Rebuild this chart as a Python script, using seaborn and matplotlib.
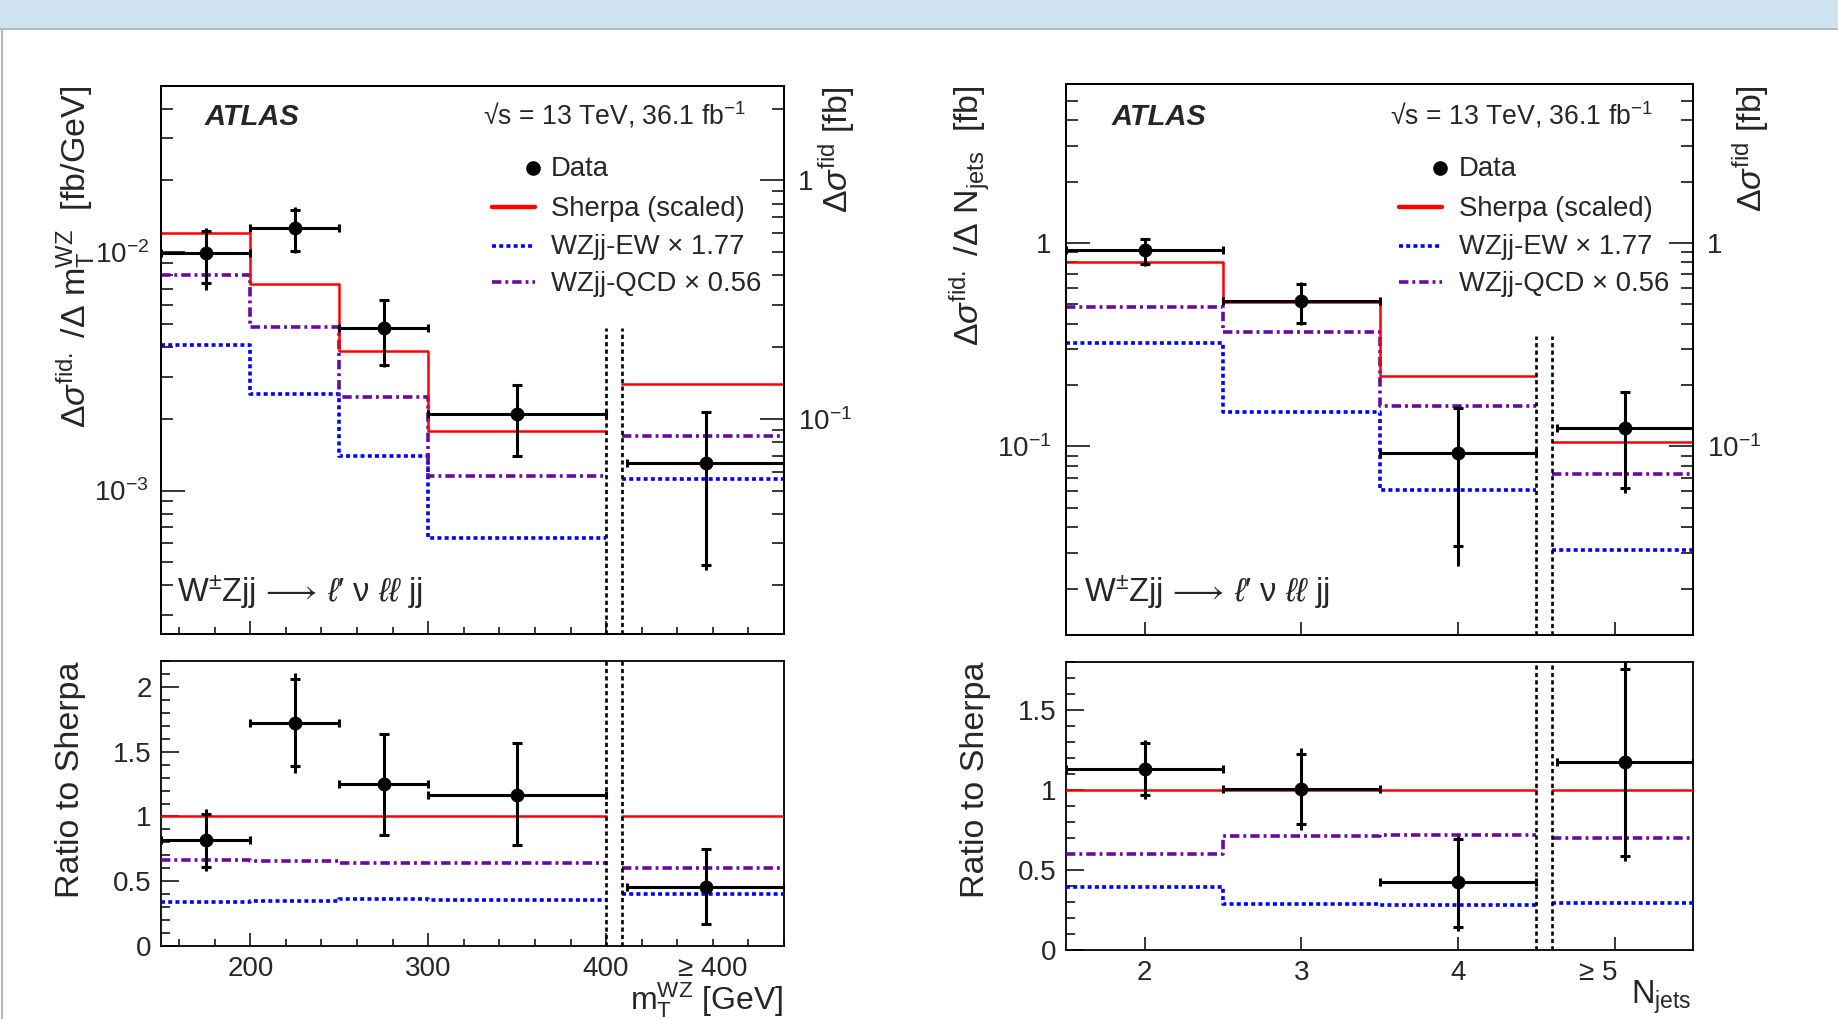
import numpy as np
import pandas as pd
import matplotlib
matplotlib.use("Agg")
import matplotlib.pyplot as plt
import seaborn as sns
from matplotlib.ticker import FixedLocator, MultipleLocator, NullFormatter, FuncFormatter, LogLocator, NullLocator
from matplotlib.lines import Line2D
from matplotlib.patches import Rectangle

# ---------------- data : m_T^WZ ----------------
mt_edges = [150, 200, 250, 300, 400]
mt_centers = [175, 225, 275, 350]
mt_halfw = [25, 25, 25, 50]
mt_ovf_edges = [409, 500]
mt_ovf_center = 456
mt_ovf_xerr = [44, 44]
mt_sherpa = [0.01205, 0.00738, 0.00385, 0.00178]
mt_sherpa_ovf = 0.00281
mt_ew = [0.00409, 0.00255, 0.00140, 0.000635]
mt_ew_ovf = 0.00112
mt_qcd = [0.00800, 0.00485, 0.00247, 0.00115]
mt_qcd_ovf = 0.00169
mt_data = [0.0099, 0.01262, 0.00482, 0.00210, 0.001306]
mt_tot_hi = [0.01266, 0.01542, 0.00635, 0.00280, 0.00214]
mt_tot_lo = [0.00695, 0.00988, 0.00331, 0.00138, 0.000464]
mt_stat_hi = [0.01226, 0.01509, 0.00630, 0.00277, 0.00213]
mt_stat_lo = [0.00746, 0.01012, 0.00336, 0.00140, 0.000487]
# ratio to Sherpa
mt_r_sherpa = [1.0, 1.0, 1.0, 1.0]
mt_r_sherpa_ovf = 1.0
mt_r_ew = [0.337, 0.344, 0.362, 0.355]
mt_r_ew_ovf = 0.398
mt_r_qcd = [0.663, 0.656, 0.643, 0.643]
mt_r_qcd_ovf = 0.602
mt_r_data = [0.816, 1.724, 1.247, 1.168, 0.459]
mt_r_tot_hi = [1.054, 2.110, 1.640, 1.569, 0.747]
mt_r_tot_lo = [0.579, 1.339, 0.849, 0.773, 0.166]
mt_r_stat_hi = [1.020, 2.061, 1.638, 1.564, 0.745]
mt_r_stat_lo = [0.612, 1.390, 0.855, 0.778, 0.171]

# ---------------- data : N_jets ----------------
nj_edges = [1.5, 2.5, 3.5, 4.5]
nj_centers = [2, 3, 4]
nj_halfw = [0.5, 0.5, 0.5]
nj_ovf_edges = [4.6, 5.5]
nj_ovf_center = 5.07
nj_ovf_xerr = [0.44, 0.43]
nj_sherpa = [0.808, 0.512, 0.221]
nj_sherpa_ovf = 0.105
nj_ew = [0.320, 0.1476, 0.0613]
nj_ew_ovf = 0.0308
nj_qcd = [0.486, 0.366, 0.158]
nj_qcd_ovf = 0.0734
nj_data = [0.918, 0.519, 0.0923, 0.1227]
nj_tot_hi = [1.05, 0.643, 0.157, 0.185]
nj_tot_lo = [0.77, 0.396, 0.0258, 0.0589]
nj_stat_hi = [1.04, 0.63, 0.154, 0.185]
nj_stat_lo = [0.79, 0.405, 0.0324, 0.0623]
nj_r_sherpa = [1.0, 1.0, 1.0]
nj_r_sherpa_ovf = 1.0
nj_r_ew = [0.395, 0.285, 0.279]
nj_r_ew_ovf = 0.291
nj_r_qcd = [0.597, 0.711, 0.720]
nj_r_qcd_ovf = 0.701
nj_r_data = [1.132, 1.009, 0.422, 1.175]
nj_r_tot_hi = [1.31, 1.26, 0.711, 1.82]
nj_r_tot_lo = [0.944, 0.753, 0.116, 0.555]
nj_r_stat_hi = [1.294, 1.227, 0.695, 1.756]
nj_r_stat_lo = [0.97, 0.79, 0.146, 0.59]

legend_labels = ["Data", "Sherpa (scaled)", "WZjj-EW \u00d7 1.77", "WZjj-QCD \u00d7 0.56"]

# ---------------- style ----------------
sns.set_theme(style="ticks")
plt.rcParams["font.family"] = ["Liberation Sans", "DejaVu Sans"]
plt.rcParams["mathtext.fontset"] = "custom"
plt.rcParams["mathtext.rm"] = "Liberation Sans"
plt.rcParams["mathtext.it"] = "Liberation Sans:italic"
plt.rcParams["mathtext.bf"] = "Liberation Sans:bold"
plt.rcParams["mathtext.sf"] = "Liberation Sans"
plt.rcParams["mathtext.fallback"] = "stix"
plt.rcParams["axes.linewidth"] = 1.3

RED = "#ff0000"
BLUE = "#0000ff"
PURPLE = "#660aa0"
LS_EW = (0, (1.1, 0.9))
LS_QCD = (0, (2.6, 1.1, 0.8, 1.1))
LW_RED = 1.8
LW_DOT = 2.6
ELW = 2.2
TICK_FS = 20

W, H = 1838, 1019


def F(x, y):
    return (x / W, 1 - y / H)


fig = plt.figure(figsize=(W / 100, H / 100), dpi=100)
fig.patch.set_facecolor("white")
fig.patches.append(Rectangle((0, 1 - 28 / H), 1, 28 / H, transform=fig.transFigure,
                             facecolor="#cfe3f1", edgecolor="none", zorder=-10))
fig.add_artist(Line2D([0, 1], [1 - 28.8 / H] * 2, color="#a7b2bc", lw=1.3))
fig.add_artist(Line2D([2.3 / W] * 2, [0, 1 - 28.8 / H], color="#a7b2bc", lw=1.3))


def add_axes(x0, x1, y0, y1):
    return fig.add_axes([x0 / W, 1 - y1 / H, (x1 - x0) / W, (y1 - y0) / H])


axL = add_axes(161.4, 784, 85.6, 634)
axLr = add_axes(161.4, 784, 661, 946)
axR = add_axes(1066.4, 1692.8, 84.4, 635.2)
axRr = add_axes(1066.4, 1692.8, 662, 950)


def step(ax, edges, vals, color, ls, lw):
    df = pd.DataFrame({"x": edges, "y": list(vals) + [vals[-1]]})
    sns.lineplot(data=df, x="x", y="y", drawstyle="steps-post", color=color,
                 linestyle=ls, lw=lw, ax=ax, estimator=None, sort=False, zorder=3)


def flat(ax, edges, val, color, ls, lw):
    df = pd.DataFrame({"x": edges, "y": [val, val]})
    sns.lineplot(data=df, x="x", y="y", color=color, linestyle=ls, lw=lw, ax=ax,
                 estimator=None, sort=False, zorder=3)


def models(ax, edges, ovf_edges, sh, sh_o, ew, ew_o, qcd, qcd_o):
    step(ax, edges, ew, BLUE, LS_EW, LW_DOT)
    flat(ax, ovf_edges, ew_o, BLUE, LS_EW, LW_DOT)
    step(ax, edges, qcd, PURPLE, LS_QCD, LW_DOT)
    flat(ax, ovf_edges, qcd_o, PURPLE, LS_QCD, LW_DOT)
    step(ax, edges, sh, RED, "-", LW_RED)
    flat(ax, ovf_edges, sh_o, RED, "-", LW_RED)


def data_points(ax, xs, xerr_lo, xerr_hi, y, tot_hi, tot_lo, st_hi, st_lo):
    xs = np.array(xs, float)
    y = np.array(y)
    ax.errorbar(xs, y, xerr=[xerr_lo, xerr_hi], fmt="none", ecolor="black",
                elinewidth=ELW, capsize=2.6, capthick=ELW, zorder=6)
    ax.errorbar(xs, y, yerr=[y - np.array(tot_lo), np.array(tot_hi) - y], fmt="none",
                ecolor="black", elinewidth=ELW, capsize=0, zorder=6)
    ax.plot(xs, st_hi, ls="none", marker="_", ms=6.5, mew=ELW, color="black", zorder=6)
    ax.plot(xs, st_lo, ls="none", marker="_", ms=6.5, mew=ELW, color="black", zorder=6)
    sns.scatterplot(x=xs, y=y, s=85, color="black", edgecolor="black", ax=ax, zorder=7)


def logfmt(v, pos):
    e = int(round(np.log10(v)))
    if e == 0:
        return "1"
    return r"$10^{%d}$" % e


def style_log(ax, majors, side="left"):
    ax.set_yscale("log")
    ax.yaxis.set_major_locator(FixedLocator(majors))
    ax.yaxis.set_minor_locator(LogLocator(base=10, subs=np.arange(2, 10)))
    ax.yaxis.set_major_formatter(FuncFormatter(logfmt))
    ax.yaxis.set_minor_formatter(NullFormatter())
    if side == "left":
        ax.tick_params(axis="y", which="both", direction="in", left=True, right=False,
                       labelleft=True, labelright=False, labelsize=TICK_FS, pad=9)
    else:
        ax.tick_params(axis="y", which="both", direction="in", left=False, right=True,
                       labelleft=False, labelright=True, labelsize=TICK_FS, pad=9)
    ax.tick_params(axis="y", which="major", length=17, width=1.3)
    ax.tick_params(axis="y", which="minor", length=8.5, width=1.3)


def finish(ax):
    ax.set_xlabel("")
    ax.set_ylabel("")
    for s in ax.spines.values():
        s.set_visible(True)
        s.set_linewidth(1.3)
        s.set_color("black")


# ================= left : m_T^WZ =================
DASH = (0, (1.6, 1.2))
DLW = 1.9
for ax in (axL, axLr):
    ax.set_xlim(150, 500)
    ax.xaxis.set_major_locator(FixedLocator([200, 300, 400]))
    ax.xaxis.set_minor_locator(MultipleLocator(20))
    ax.tick_params(axis="x", which="both", direction="in", top=False, bottom=True,
                   labelsize=TICK_FS, pad=7)
    ax.tick_params(axis="x", which="major", length=9.5, width=1.3)
    ax.tick_params(axis="x", which="minor", length=5, width=1.3)

axL.set_ylim(2.5e-4, 0.05)
style_log(axL, [1e-3, 1e-2])
models(axL, mt_edges, mt_ovf_edges, mt_sherpa, mt_sherpa_ovf, mt_ew, mt_ew_ovf,
       mt_qcd, mt_qcd_ovf)
data_points(axL, mt_centers + [mt_ovf_center], mt_halfw + [mt_ovf_xerr[0]],
            mt_halfw + [mt_ovf_xerr[1]], mt_data, mt_tot_hi, mt_tot_lo, mt_stat_hi, mt_stat_lo)
for xv in (400, 409):
    axL.axvline(xv, ymin=0, ymax=0.558, color="black", ls=DASH, lw=DLW, zorder=4)
axL.tick_params(axis="x", labelbottom=False)
axL.set_xlim(150, 500)
finish(axL)
axL2 = axL.twinx()
axL2.set_ylim(2.5e-4 * 50, 0.05 * 50)
style_log(axL2, [0.1, 1], side="right")
axL2.tick_params(axis="y", pad=10)
finish(axL2)

axLr.set_ylim(0, 2.2)
models(axLr, mt_edges, mt_ovf_edges, mt_r_sherpa, mt_r_sherpa_ovf, mt_r_ew, mt_r_ew_ovf,
       mt_r_qcd, mt_r_qcd_ovf)
data_points(axLr, mt_centers + [mt_ovf_center], mt_halfw + [mt_ovf_xerr[0]],
            mt_halfw + [mt_ovf_xerr[1]], mt_r_data, mt_r_tot_hi, mt_r_tot_lo,
            mt_r_stat_hi, mt_r_stat_lo)
for xv in (400, 409):
    axLr.axvline(xv, color="black", ls=DASH, lw=DLW, zorder=4)
axLr.set_xlim(150, 500)
axLr.set_ylim(0, 2.2)
axLr.yaxis.set_major_locator(MultipleLocator(0.5))
axLr.yaxis.set_minor_locator(MultipleLocator(0.1))
axLr.yaxis.set_major_formatter(FuncFormatter(lambda v, p: "%g" % round(v, 2)))
axLr.tick_params(axis="y", which="both", direction="in", left=True, right=False,
                 labelsize=TICK_FS, pad=7)
axLr.tick_params(axis="y", which="major", length=13, width=1.3)
axLr.tick_params(axis="y", which="minor", length=6.5, width=1.3)
axLr.set_xticks([200, 300, 400], ["200", "300", "400"])
axLr.annotate("\u2265 400", xy=(460, 0), xycoords=("data", "axes fraction"),
              xytext=(0, -7), textcoords="offset points", ha="center", va="top",
              fontsize=TICK_FS)
finish(axLr)

# ================= right : N_jets =================
for ax in (axR, axRr):
    ax.set_xlim(1.5, 5.5)
    ax.xaxis.set_major_locator(FixedLocator([2, 3, 4, 5]))
    ax.xaxis.set_minor_locator(NullLocator())
    ax.tick_params(axis="x", which="both", direction="in", top=False, bottom=True,
                   labelsize=TICK_FS, pad=7)
    ax.tick_params(axis="x", which="major", length=9.5, width=1.3)

axR.set_ylim(0.0118, 6.0)
style_log(axR, [0.1, 1])
axR.tick_params(axis="y", pad=11)
models(axR, nj_edges, nj_ovf_edges, nj_sherpa, nj_sherpa_ovf, nj_ew, nj_ew_ovf,
       nj_qcd, nj_qcd_ovf)
data_points(axR, nj_centers + [nj_ovf_center], nj_halfw + [nj_ovf_xerr[0]],
            nj_halfw + [nj_ovf_xerr[1]], nj_data, nj_tot_hi, nj_tot_lo, nj_stat_hi, nj_stat_lo)
for xv in (4.5, 4.6):
    axR.axvline(xv, ymin=0, ymax=0.5425, color="black", ls=DASH, lw=DLW, zorder=4)
axR.tick_params(axis="x", labelbottom=False)
axR.set_xlim(1.5, 5.5)
finish(axR)
axR2 = axR.twinx()
axR2.set_ylim(0.0118, 6.0)
style_log(axR2, [0.1, 1], side="right")
axR2.tick_params(axis="y", pad=10)
finish(axR2)

models(axRr, nj_edges, nj_ovf_edges, nj_r_sherpa, nj_r_sherpa_ovf, nj_r_ew, nj_r_ew_ovf,
       nj_r_qcd, nj_r_qcd_ovf)
data_points(axRr, nj_centers + [nj_ovf_center], nj_halfw + [nj_ovf_xerr[0]],
            nj_halfw + [nj_ovf_xerr[1]], nj_r_data, nj_r_tot_hi, nj_r_tot_lo,
            nj_r_stat_hi, nj_r_stat_lo)
for xv in (4.5, 4.6):
    axRr.axvline(xv, color="black", ls=DASH, lw=DLW, zorder=4)
axRr.set_xlim(1.5, 5.5)
axRr.set_ylim(0, 1.8)
axRr.yaxis.set_major_locator(MultipleLocator(0.5))
axRr.yaxis.set_minor_locator(MultipleLocator(0.1))
axRr.yaxis.set_major_formatter(FuncFormatter(lambda v, p: "%g" % round(v, 2)))
axRr.tick_params(axis="y", which="both", direction="in", left=True, right=False,
                 labelsize=TICK_FS, pad=7)
axRr.tick_params(axis="y", which="major", length=13, width=1.3)
axRr.tick_params(axis="y", which="minor", length=6.5, width=1.3)
axRr.set_xticks([2, 3, 4, 5], ["2", "3", "4", ""])
axRr.annotate("\u2265 5", xy=(4.895, 0), xycoords=("data", "axes fraction"),
              xytext=(0, -7), textcoords="offset points", ha="center", va="top",
              fontsize=TICK_FS)
finish(axRr)

# ================= texts, titles, legends =================
YT = 24.5


def vtitle(x, y, s, fs=YT):
    fig.text(*F(x, y), s, rotation=90, rotation_mode="anchor", ha="right",
             va="baseline", fontsize=fs)


vtitle(86, 86, r"$\Delta\sigma^{\mathrm{fid.}}$ /$\Delta$ m$_{\mathrm{T}}^{\mathrm{WZ}}$  [fb/GeV]")
vtitle(848, 86, r"$\Delta\sigma^{\mathrm{fid}}$ [fb]")
vtitle(79, 661, "Ratio to Sherpa")
vtitle(979, 85, r"$\Delta\sigma^{\mathrm{fid.}}$ /$\Delta$ N$_{\mathrm{jets}}$  [fb]")
vtitle(1762, 85, r"$\Delta\sigma^{\mathrm{fid}}$ [fb]")
vtitle(984, 662, "Ratio to Sherpa")

fig.text(*F(783, 1010), r"m$_{\mathrm{T}}^{\mathrm{WZ}}$ [GeV]", ha="right", va="baseline",
         fontsize=23)
fig.text(*F(1692, 1004), r"N$_{\mathrm{jets}}$", ha="right", va="baseline", fontsize=23.5)

for x_atlas, x_sq in ((205, 483), (1112, 1390)):
    fig.text(*F(x_atlas, 125), "ATLAS", fontsize=21, fontweight="bold", fontstyle="italic",
             ha="left", va="baseline")
    fig.text(*F(x_sq, 125), "\u221as = 13 TeV, 36.1 fb$^{-1}$", fontsize=19.2,
             ha="left", va="baseline")

proc = "W$^{\\pm}$Zjj$\\,\\longrightarrow\\,$$\\ell$\u2032 \u03bd $\\ell\\ell$ jj"
fig.text(*F(177, 602), proc, fontsize=23.5, ha="left", va="baseline")
fig.text(*F(1084, 602), proc, fontsize=23.5, ha="left", va="baseline")

rows = [167.5, 207, 245.5, 282]
for lx0, lx1, mx, tx in ((492, 535, 533, 551), (1399, 1442, 1440, 1459)):
    fig.add_artist(Line2D([mx / W], [1 - rows[0] / H], ls="none", marker="o", ms=9.5,
                          color="black"))
    fig.add_artist(Line2D([lx0 / W, lx1 / W], [1 - rows[1] / H] * 2, color=RED, lw=3.2))
    fig.add_artist(Line2D([lx0 / W, lx1 / W], [1 - rows[2] / H] * 2, color=BLUE, lw=LW_DOT,
                          ls=LS_EW))
    fig.add_artist(Line2D([lx0 / W, lx1 / W], [1 - rows[3] / H] * 2, color=PURPLE, lw=LW_DOT,
                          ls=LS_QCD))
    for r, lab in zip(rows, legend_labels):
        fig.text(*F(tx, r + 9), lab, fontsize=19.8, ha="left", va="baseline")

fig.savefig("out.png", dpi=100, facecolor="white")
